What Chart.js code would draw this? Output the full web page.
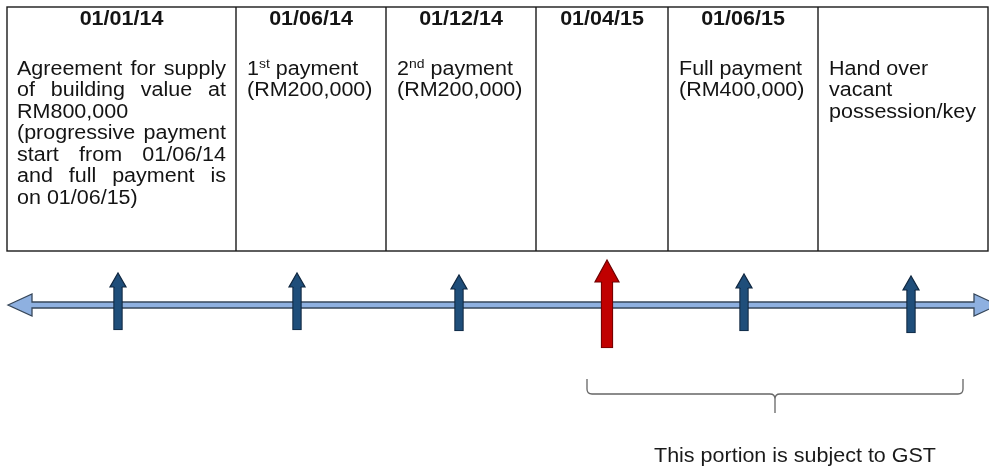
<!DOCTYPE html>
<html>
<head>
<meta charset="utf-8">
<title>GST timeline</title>
<script src="https://cdn.jsdelivr.net/npm/chart.js@4.4.1/dist/chart.umd.min.js"></script>
<style>
  html, body { margin: 0; padding: 0; background: #fff; }
  #wrap { width: 989px; height: 467px; position: relative; }
</style>
</head>
<body>
<div id="wrap"><canvas id="myChart"></canvas></div>
<script>
// Datas de cada coluna (cabeçalho)
const datas = ['01/01/14', '01/06/14', '01/12/14', '01/04/15', '01/06/15', ''];
// Texto de cada coluna, linha a linha ({..} = sobrescrito)
const textos = [
    ['Agreement for supply', 'of building value at', 'RM800,000', '(progressive payment', 'start from 01/06/14', 'and full payment is', 'on 01/06/15)'],
    ['1{st} payment', '(RM200,000)'],
    ['2{nd} payment', '(RM200,000)'],
    [],
    ['Full payment', '(RM400,000)'],
    ['Hand over', 'vacant', 'possession/key']
];
const justificado = [true, false, false, false, false, false]; // só a 1ª coluna é justificada
const fimParagrafo = ['RM800,000', 'on 01/06/15)']; // linhas que não se esticam

// Limites das colunas no eixo horizontal
const limitesColunas = [7, 236, 386, 536, 668, 818, 988];

// Setas do cronograma: posição no eixo, topo da haste e pé da haste
const posSetas = [118, 297, 459, 607, 744, 911];
const topoHaste = [287, 287, 289, 282, 288, 290];
const peHaste = [330, 330, 331, 348, 331, 333];
const destaque = [false, false, false, true, false, false]; // 01/04/15 = início do GST

const linhaTempo = [8, 998];   // pontas da seta dupla
const nivelLinha = 305;
const trechoGST = [587, 963];  // chave "sujeito a GST"
const legendaGST = 'This portion is subject to GST';

const FONTE = '"Liberation Sans", Arial, sans-serif';
const SX = 1.075; // o original está um pouco esticado na horizontal
const TAM = 20;

function escreve(ctx, txt, x, y, font) {
    ctx.save();
    ctx.font = font;
    ctx.translate(x, y);
    ctx.scale(SX, 1);
    ctx.fillText(txt, 0, 0);
    const w = ctx.measureText(txt).width * SX;
    ctx.restore();
    return w;
}
function largura(ctx, txt, font) {
    ctx.save();
    ctx.font = font;
    const w = ctx.measureText(txt).width * SX;
    ctx.restore();
    return w;
}

// Linha com sobrescrito: "1{st} payment"
function escreveRica(ctx, linha, x, y) {
    const partes = linha.split(/(\{[^}]*\})/).filter(p => p.length);
    let cx = x;
    partes.forEach(p => {
        if (p[0] === '{') {
            cx += escreve(ctx, p.slice(1, -1), cx, y - 7, '13px ' + FONTE);
        } else {
            cx += escreve(ctx, p, cx, y, TAM + 'px ' + FONTE);
        }
    });
}

function escreveJustificada(ctx, linha, x0, x1, y) {
    const font = TAM + 'px ' + FONTE;
    const palavras = linha.split(' ');
    if (palavras.length < 2 || fimParagrafo.includes(linha)) {
        escreve(ctx, linha, x0, y, font);
        return;
    }
    const soma = palavras.reduce((s, p) => s + largura(ctx, p, font), 0);
    const gap = (x1 - x0 - soma) / (palavras.length - 1);
    let cx = x0;
    palavras.forEach(p => {
        cx += escreve(ctx, p, cx, y, font) + gap;
    });
}

const desenho = {
    id: 'desenho',
    beforeDatasetsDraw(chart) {
        const ctx = chart.ctx;
        const xs = chart.scales.x, ys = chart.scales.y;
        const px = v => xs.getPixelForValue(v);
        const py = v => ys.getPixelForValue(v);

        // tabela
        const topo = py(7), fundo = py(251);
        ctx.save();
        ctx.strokeStyle = '#1a1a1a';
        ctx.lineWidth = 1.4;
        ctx.strokeRect(px(limitesColunas[0]), topo, px(limitesColunas[6]) - px(limitesColunas[0]), fundo - topo);
        ctx.beginPath();
        for (let i = 1; i < limitesColunas.length - 1; i++) {
            ctx.moveTo(px(limitesColunas[i]), topo);
            ctx.lineTo(px(limitesColunas[i]), fundo);
        }
        ctx.stroke();

        ctx.fillStyle = '#141414';
        ctx.textBaseline = 'alphabetic';
        datas.forEach((d, i) => {
            const a = px(limitesColunas[i]), b = px(limitesColunas[i + 1]);
            const fb = 'bold ' + TAM + 'px ' + FONTE;
            if (d) escreve(ctx, d, (a + b) / 2 - largura(ctx, d, fb) / 2, py(24.5), fb);
            const pad = i === 0 ? 10 : 11;
            textos[i].forEach((linha, j) => {
                const y = py(74.5 + j * 21.5);
                if (justificado[i]) escreveJustificada(ctx, linha, a + pad, b - 10, y);
                else escreveRica(ctx, linha, a + pad, y);
            });
        });

        // seta dupla do tempo
        const xl = px(linhaTempo[0]), xr = px(linhaTempo[1]), yc = py(nivelLinha);
        const comp = 24, meia = 11, haste = 3;
        ctx.beginPath();
        ctx.moveTo(xl, yc);
        ctx.lineTo(xl + comp, yc - meia);
        ctx.lineTo(xl + comp, yc - haste);
        ctx.lineTo(xr - comp, yc - haste);
        ctx.lineTo(xr - comp, yc - meia);
        ctx.lineTo(xr, yc);
        ctx.lineTo(xr - comp, yc + meia);
        ctx.lineTo(xr - comp, yc + haste);
        ctx.lineTo(xl + comp, yc + haste);
        ctx.lineTo(xl + comp, yc + meia);
        ctx.closePath();
        ctx.fillStyle = '#8eb0e0';
        ctx.fill();
        ctx.strokeStyle = '#37475a';
        ctx.lineWidth = 1.3;
        ctx.stroke();

        // chave do trecho com GST
        const xa = px(trechoGST[0]), xb = px(trechoGST[1]), xm = (xa + xb) / 2;
        const y0 = py(379), y1 = py(394), y2 = py(413), r = 5;
        ctx.beginPath();
        ctx.moveTo(xa, y0);
        ctx.lineTo(xa, y1 - r);
        ctx.quadraticCurveTo(xa, y1, xa + r, y1);
        ctx.lineTo(xm - r, y1);
        ctx.quadraticCurveTo(xm, y1, xm, y1 + r);
        ctx.lineTo(xm, y2);
        ctx.moveTo(xm, y1 + r);
        ctx.quadraticCurveTo(xm, y1, xm + r, y1);
        ctx.lineTo(xb - r, y1);
        ctx.quadraticCurveTo(xb, y1, xb, y1 - r);
        ctx.lineTo(xb, y0);
        ctx.strokeStyle = '#666';
        ctx.lineWidth = 1.3;
        ctx.stroke();

        ctx.fillStyle = '#1a1a1a';
        const fl = TAM + 'px ' + FONTE;
        escreve(ctx, legendaGST, px(795) - largura(ctx, legendaGST, fl) / 2, py(461.5), fl);
        ctx.restore();
    },
    afterDatasetsDraw(chart) {
        // pontas das setas sobre as hastes
        const ctx = chart.ctx;
        chart.data.datasets.forEach((ds, d) => {
            const meta = chart.getDatasetMeta(d);
            meta.data.forEach(el => {
                const { x, y, base, width } = el.getProps(['x', 'y', 'base', 'width'], true);
                const topo = Math.min(y, base);
                const hw = ds.cabeca.larg / 2, hl = ds.cabeca.comp, bw = ds.borderWidth;
                ctx.save();
                ctx.fillStyle = ds.backgroundColor;
                ctx.beginPath();
                ctx.moveTo(x - hw, topo);
                ctx.lineTo(x, topo - hl);
                ctx.lineTo(x + hw, topo);
                ctx.closePath();
                ctx.fill();
                ctx.fillRect(x - width / 2 + bw, topo - 0.5, width - 2 * bw, bw + 0.5);
                ctx.beginPath();
                ctx.moveTo(x - width / 2 + bw / 2, topo);
                ctx.lineTo(x - hw, topo);
                ctx.lineTo(x, topo - hl);
                ctx.lineTo(x + hw, topo);
                ctx.lineTo(x + width / 2 - bw / 2, topo);
                ctx.strokeStyle = ds.borderColor;
                ctx.lineWidth = bw;
                ctx.lineJoin = 'miter';
                ctx.stroke();
                ctx.restore();
            });
        });
    }
};

const setasAzuis = [], setasVermelhas = [];
posSetas.forEach((x, i) => {
    const p = { x: x, y: [peHaste[i], topoHaste[i]] };
    (destaque[i] ? setasVermelhas : setasAzuis).push(p);
});

const ctx = document.getElementById('myChart').getContext('2d');
const myChart = new Chart(ctx, {
    type: 'bar',
    data: {
        datasets: [{
            label: 'Pagamentos',
            data: setasAzuis,
            backgroundColor: '#1f4e7a',
            borderColor: '#0f2740',
            borderWidth: 1.2,
            borderSkipped: false,
            barThickness: 9,
            grouped: false,
            cabeca: { larg: 16, comp: 14 }
        }, {
            label: 'Início do GST',
            data: setasVermelhas,
            backgroundColor: '#c00000',
            borderColor: '#6e0000',
            borderWidth: 1.2,
            borderSkipped: false,
            barThickness: 12,
            grouped: false,
            cabeca: { larg: 24, comp: 22 }
        }]
    },
    options: {
        responsive: true,
        maintainAspectRatio: false,
        animation: false,
        events: [],
        layout: { padding: 0 },
        plugins: {
            legend: { display: false },
            tooltip: { enabled: false }
        },
        scales: {
            x: { type: 'linear', min: 0, max: 989, offset: false, display: false },
            y: { type: 'linear', min: 0, max: 467, reverse: true, display: false }
        }
    },
    plugins: [desenho]
});
</script>
</body>
</html>
